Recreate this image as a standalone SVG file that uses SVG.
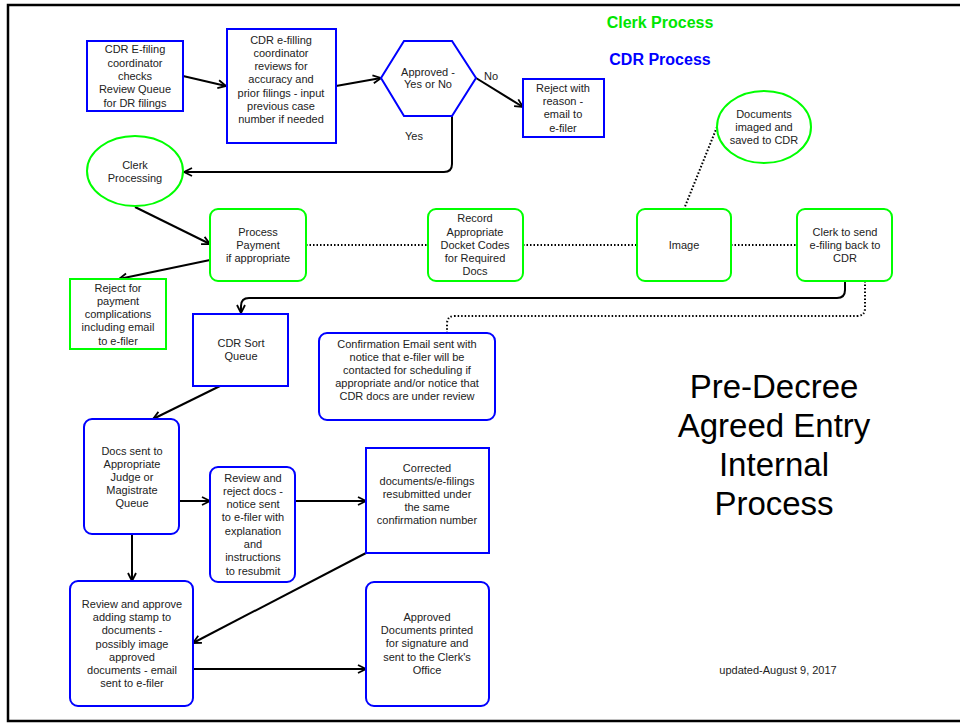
<svg xmlns="http://www.w3.org/2000/svg" width="960" height="723" viewBox="0 0 960 723">
  <style>
    text { font-family: "Liberation Sans", Arial, sans-serif; font-size: 11px; fill: #222; text-anchor: middle; }
    .cdr { fill: #fff; stroke: #0000ff; stroke-width: 2; }
    .clerk { fill: #fff; stroke: #00ff00; stroke-width: 2; }
    .flow { fill: none; stroke: #000; stroke-width: 2; marker-end: url(#arrow); }
    .link { fill: none; stroke: #000; stroke-width: 2; stroke-dasharray: 1.5 2; }
    .legend { font-size: 16px; font-weight: bold; }
    .title { font-size: 33px; fill: #000; }
  </style>
  <defs>
    <marker id="arrow" markerUnits="userSpaceOnUse" markerWidth="12" markerHeight="12" refX="9" refY="5" orient="auto">
      <path d="M1,1 L9,5 L1,9" fill="none" stroke="#000" stroke-width="1.8"/>
    </marker>
  </defs>

  <rect x="0" y="0" width="960" height="723" fill="#fff"/>
  <!-- page frame -->
  <rect x="8" y="5" width="960" height="716" fill="none" stroke="#000" stroke-width="2.5"/>

  <!-- legend -->
  <text class="legend" x="660" y="28" style="fill:#00e600">Clerk Process</text>
  <text class="legend" x="660" y="65" style="fill:#0000ff">CDR Process</text>

  <!-- connectors -->
  <g id="connectors">
    <path class="flow" d="M183,76 L226,86"/>
    <path class="flow" d="M336,86 L381,78"/>
    <path class="flow" d="M476,78 L523,107"/>
    <path class="flow" d="M452,116 L452,164 Q452,172 444,172 L184,172"/>
    <path class="flow" d="M135,207 L210,244"/>
    <path class="flow" d="M210,260 L119,279"/>
    <path class="flow" d="M845,281 L845,290 Q845,298 837,298 L249,298 Q241,298 241,306 L241,313"/>
    <path class="link" d="M865,281 L865,308 Q865,316 857,316 L455,316 Q447,316 447,324 L447,333"/>
    <path class="link" d="M306,245 L428,245"/>
    <path class="link" d="M523,245 L637,245"/>
    <path class="link" d="M731,245 L797,245"/>
    <path class="link" d="M717,127 L684,209"/>
    <path class="flow" d="M220,386 L153,419"/>
    <path class="flow" d="M179,501 L210,501"/>
    <path class="flow" d="M295,501 L366,501"/>
    <path class="flow" d="M132,534 L132,581"/>
    <path class="flow" d="M366,553 L193,643"/>
    <path class="flow" d="M193,669 L366,669"/>
    <text x="491" y="80">No</text>
    <text x="414" y="140">Yes</text>
  </g>

  <g id="review-queue">
    <rect class="cdr" x="87" y="41" width="96" height="70"/>
    <text x="135" y="53">CDR E-filing</text>
    <text x="135" y="67">coordinator</text>
    <text x="135" y="80">checks</text>
    <text x="135" y="93">Review Queue</text>
    <text x="135" y="107">for DR filings</text>
  </g>

  <g id="coordinator-review">
    <rect class="cdr" x="227" y="29" width="109" height="114"/>
    <text x="281" y="44">CDR e-filling</text>
    <text x="281" y="57">coordinator</text>
    <text x="281" y="70">reviews for</text>
    <text x="281" y="83">accuracy and</text>
    <text x="281" y="97">prior filings - input</text>
    <text x="281" y="110">previous case</text>
    <text x="281" y="123">number if needed</text>
  </g>

  <g id="approved-decision">
    <polygon class="cdr" points="381,78 404,41 452,41 476,78 452,116 404,116"/>
    <text x="428" y="76">Approved -</text>
    <text x="428" y="88">Yes or No</text>
  </g>

  <g id="reject-reason">
    <rect class="cdr" x="523" y="79" width="81" height="58"/>
    <text x="563" y="92">Reject with</text>
    <text x="563" y="105">reason -</text>
    <text x="563" y="118">email to</text>
    <text x="563" y="132">e-filer</text>
  </g>

  <g id="clerk-processing">
    <ellipse class="clerk" cx="135" cy="171" rx="48" ry="35"/>
    <text x="135" y="169">Clerk</text>
    <text x="135" y="182">Processing</text>
  </g>

  <g id="documents-imaged">
    <ellipse class="clerk" cx="764" cy="127" rx="47" ry="36"/>
    <text x="764" y="118">Documents</text>
    <text x="764" y="131">imaged and</text>
    <text x="764" y="144">saved to CDR</text>
  </g>

  <g id="process-payment">
    <rect class="clerk" x="210" y="209" width="96" height="72" rx="8"/>
    <text x="258" y="236">Process</text>
    <text x="258" y="249">Payment</text>
    <text x="258" y="262">if appropriate</text>
  </g>

  <g id="docket-codes">
    <rect class="clerk" x="428" y="209" width="95" height="72" rx="8"/>
    <text x="475" y="222">Record</text>
    <text x="475" y="236">Appropriate</text>
    <text x="475" y="249">Docket Codes</text>
    <text x="475" y="262">for Required</text>
    <text x="475" y="275">Docs</text>
  </g>

  <g id="image">
    <rect class="clerk" x="637" y="209" width="94" height="72" rx="8"/>
    <text x="684" y="249">Image</text>
  </g>

  <g id="send-back">
    <rect class="clerk" x="797" y="209" width="95" height="72" rx="8"/>
    <text x="845" y="236">Clerk to send</text>
    <text x="845" y="249">e-filing back to</text>
    <text x="845" y="262">CDR</text>
  </g>

  <g id="reject-payment">
    <rect class="clerk" x="70" y="279" width="96" height="70"/>
    <text x="118" y="292">Reject for</text>
    <text x="118" y="305">payment</text>
    <text x="118" y="318">complications</text>
    <text x="118" y="331">including email</text>
    <text x="118" y="345">to e-filer</text>
  </g>

  <g id="sort-queue">
    <rect class="cdr" x="193" y="314" width="95" height="72"/>
    <text x="241" y="347">CDR Sort</text>
    <text x="241" y="360">Queue</text>
  </g>

  <g id="confirmation-email">
    <rect class="cdr" x="319" y="333" width="176" height="87" rx="8"/>
    <text x="407" y="348">Confirmation Email sent with</text>
    <text x="407" y="361">notice that e-filer will be</text>
    <text x="407" y="374">contacted for scheduling if</text>
    <text x="407" y="387">appropriate and/or notice that</text>
    <text x="407" y="400">CDR docs are under review</text>
  </g>

  <g id="judge-queue">
    <rect class="cdr" x="84" y="419" width="95" height="115" rx="8"/>
    <text x="132" y="455">Docs sent to</text>
    <text x="132" y="468">Appropriate</text>
    <text x="132" y="481">Judge or</text>
    <text x="132" y="494">Magistrate</text>
    <text x="132" y="507">Queue</text>
  </g>

  <g id="review-reject">
    <rect class="cdr" x="210" y="467" width="85" height="115" rx="8"/>
    <text x="253" y="482">Review and</text>
    <text x="253" y="495">reject docs -</text>
    <text x="253" y="508">notice sent</text>
    <text x="253" y="521">to e-filer with</text>
    <text x="253" y="535">explanation</text>
    <text x="253" y="548">and</text>
    <text x="253" y="561">instructions</text>
    <text x="253" y="575">to resubmit</text>
  </g>

  <g id="corrected-resubmitted">
    <rect class="cdr" x="366" y="448" width="123" height="105"/>
    <text x="427" y="472">Corrected</text>
    <text x="427" y="485">documents/e-filings</text>
    <text x="427" y="498">resubmitted under</text>
    <text x="427" y="511">the same</text>
    <text x="427" y="524">confirmation number</text>
  </g>

  <g id="review-approve">
    <rect class="cdr" x="70" y="581" width="123" height="125" rx="8"/>
    <text x="132" y="608">Review and approve</text>
    <text x="132" y="621">adding stamp to</text>
    <text x="132" y="634">documents -</text>
    <text x="132" y="648">possibly image</text>
    <text x="132" y="661">approved</text>
    <text x="132" y="674">documents - email</text>
    <text x="132" y="687">sent to e-filer</text>
  </g>

  <g id="approved-printed">
    <rect class="cdr" x="366" y="582" width="123" height="124" rx="8"/>
    <text x="427" y="621">Approved</text>
    <text x="427" y="634">Documents printed</text>
    <text x="427" y="647">for signature and</text>
    <text x="427" y="661">sent to the Clerk's</text>
    <text x="427" y="674">Office</text>
  </g>

  <!-- title block -->
  <text class="title" x="774" y="398">Pre-Decree</text>
  <text class="title" x="774" y="437">Agreed Entry</text>
  <text class="title" x="774" y="476">Internal</text>
  <text class="title" x="774" y="515">Process</text>
  <text x="778" y="674">updated-August 9, 2017</text>
</svg>
